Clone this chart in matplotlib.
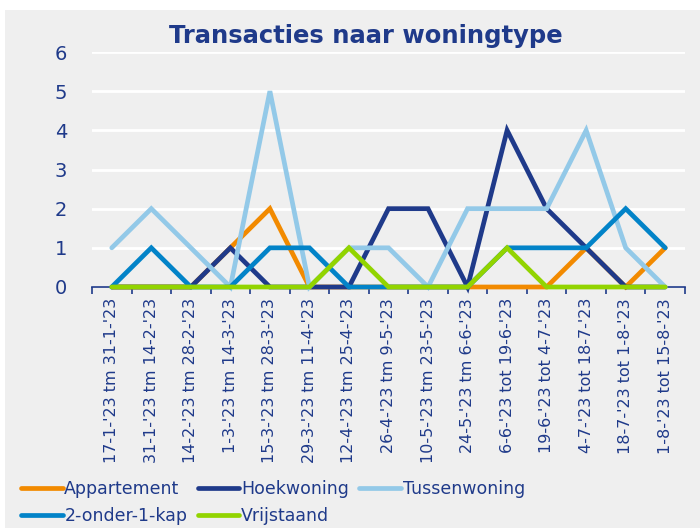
import numpy as np
import matplotlib.pyplot as plt
from matplotlib.patches import Rectangle

# Data
periodes = ["17-1-'23 tm 31-1-'23", "31-1-'23 tm 14-2-'23", "14-2-'23 tm 28-2-'23",
            "1-3-'23 tm 14-3-'23", "15-3-'23 tm 28-3-'23", "29-3-'23 tm 11-4-'23",
            "12-4-'23 tm 25-4-'23", "26-4-'23 tm 9-5-'23", "10-5-'23 tm 23-5-'23",
            "24-5-'23 tm 6-6-'23", "6-6-'23 tot 19-6-'23", "19-6-'23 tot 4-7-'23",
            "4-7-'23 tot 18-7-'23", "18-7-'23 tot 1-8-'23", "1-8-'23 tot 15-8-'23"]
appartement = [0, 0, 0, 1, 2, 0, 0, 0, 0, 0, 0, 0, 1, 0, 1]
hoekwoning = [0, 0, 0, 1, 0, 0, 0, 2, 2, 0, 4, 2, 1, 0, 0]
tussenwoning = [1, 2, 1, 0, 5, 0, 1, 1, 0, 2, 2, 2, 4, 1, 0]
twee_onder_een_kap = [0, 1, 0, 0, 1, 1, 0, 0, 0, 0, 1, 1, 1, 2, 1]
vrijstaand = [0, 0, 0, 0, 0, 0, 1, 0, 0, 0, 1, 0, 0, 0, 0]

navy = '#1F3A8A'
bg = '#EFEFEF'

fig = plt.figure(figsize=(7, 5.28), dpi=100, facecolor='white')
fig.patches.append(Rectangle((5/700, 0), 1, 1 - 10/528, transform=fig.transFigure,
                             facecolor=bg, edgecolor='none', zorder=-10))
ax = fig.add_axes([92/700, 1 - 287/528, 593/700, 235/528])
ax.set_facecolor(bg)

x = np.arange(len(periodes))
series = [('Appartement', appartement, '#F28A00'),
          ('Hoekwoning', hoekwoning, navy),
          ('Tussenwoning', tussenwoning, '#93C9E8'),
          ('2-onder-1-kap', twee_onder_een_kap, '#0283C8'),
          ('Vrijstaand', vrijstaand, '#92D400')]
lijnen = []
for naam, vals, kleur in series:
    l, = ax.plot(x, vals, color=kleur, lw=3.4, label=naam, solid_capstyle='round',
                 solid_joinstyle='miter', clip_on=False, zorder=3)
    lijnen.append(l)

ax.set_xlim(-0.5, len(periodes) - 0.5)
ax.set_ylim(0, 6)
ax.set_yticks(range(7))
ax.yaxis.grid(True, color='white', lw=2)
ax.set_axisbelow(True)
for s in ['top', 'right', 'left']:
    ax.spines[s].set_visible(False)
ax.spines['bottom'].set_color(navy)
ax.spines['bottom'].set_linewidth(1.2)

ax.set_xticks(x)
ax.set_xticklabels(periodes, rotation=90, fontsize=11.5, color=navy)
ax.tick_params(axis='x', which='major', length=0, pad=8)
ax.set_xticks(np.arange(-0.5, len(periodes)), minor=True)
ax.tick_params(axis='x', which='minor', length=5, width=1.2, color=navy)
ax.tick_params(axis='y', length=0, labelsize=14, labelcolor=navy, pad=18)

fig.text(366/700, 1 - 36/528, 'Transacties naar woningtype', ha='center', va='center',
         fontsize=17.5, fontweight='bold', color=navy)

# legend row-wise: A H T / 2o1k V
volgorde = [0, 3, 1, 4, 2]
fig.legend([lijnen[i] for i in volgorde], [series[i][0] for i in volgorde],
           loc='lower left', bbox_to_anchor=(14/700, -4/528), ncol=3, frameon=False,
           fontsize=12.5, labelcolor=navy, handlelength=2.4, handletextpad=0.1,
           columnspacing=0.6, labelspacing=0.5, borderaxespad=0)

plt.savefig('out.png', dpi=100, facecolor=fig.get_facecolor())
